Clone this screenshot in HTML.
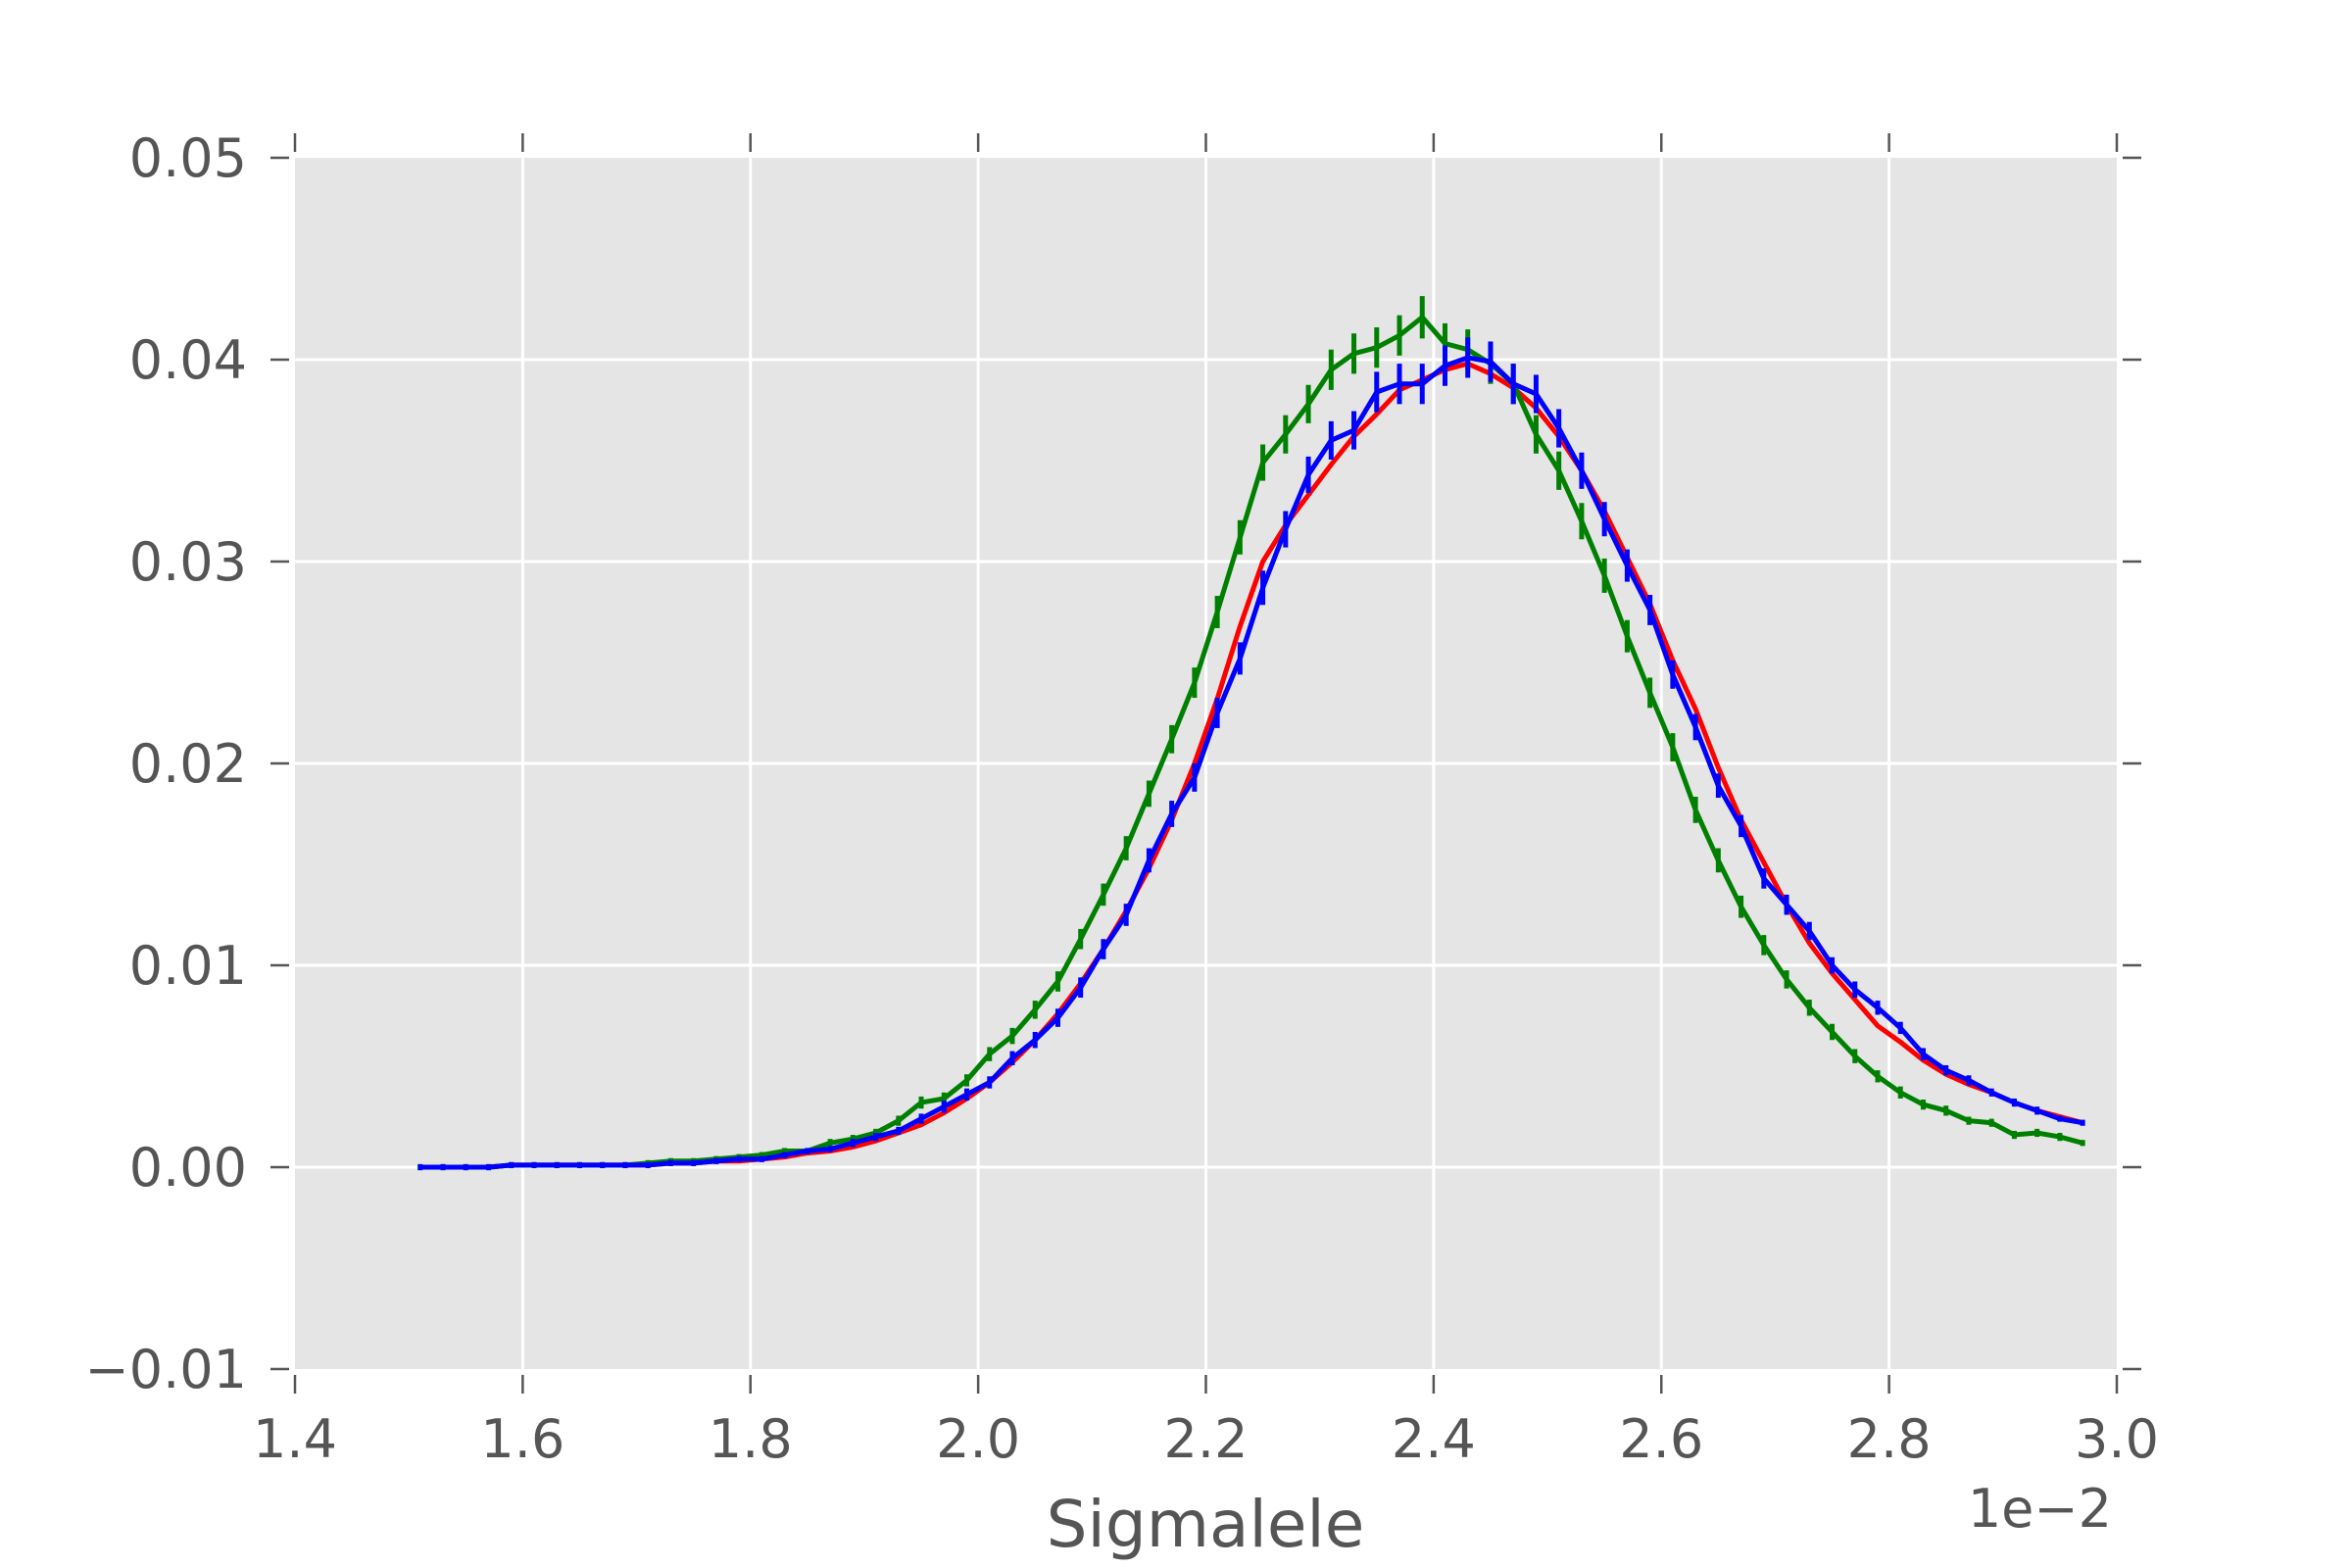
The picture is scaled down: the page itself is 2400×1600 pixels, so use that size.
<!DOCTYPE html>
<html><head><meta charset="utf-8"><style>
html,body{margin:0;padding:0;background:#fff;}
svg{display:block;font-family:"DejaVu Sans","Liberation Sans",sans-serif;}
</style></head>
<body>
<svg id="chart" width="2400" height="1600" viewBox="0 0 2400 1600" xmlns="http://www.w3.org/2000/svg">
<rect x="301" y="161" width="1859" height="1236" fill="#e5e5e5"/>
<g id="grid"></g>
<g id="ticks"></g>
<g id="series"></g>
<text x="1230" y="1578" font-size="66" fill="#555" text-anchor="middle">Sigmalele</text>
<text x="2155" y="1558" font-size="54" fill="#555" text-anchor="end">1e−2</text>
</svg>
<script>
const xVals=[1.51,1.53,1.55,1.57,1.59,1.61,1.63,1.65,1.67,1.69,1.71,1.73,1.75,1.77,1.79,1.81,1.83,1.85,1.87,1.89,1.91,1.93,1.95,1.97,1.99,2.01,2.03,2.05,2.07,2.09,2.11,2.13,2.15,2.17,2.19,2.21,2.23,2.25,2.27,2.29,2.31,2.33,2.35,2.37,2.39,2.41,2.43,2.45,2.47,2.49,2.51,2.53,2.55,2.57,2.59,2.61,2.63,2.65,2.67,2.69,2.71,2.73,2.75,2.77,2.79,2.81,2.83,2.85,2.87,2.89,2.91,2.93,2.95,2.97];
const redVals=[0,0,0,0,0.0001,0.0001,0.0001,0.0001,0.0001,0.0001,0.0001,0.0002,0.0002,0.0003,0.0003,0.0004,0.0005,0.0007,0.0008,0.0010,0.0013,0.0017,0.0021,0.0027,0.0034,0.0042,0.0052,0.0063,0.0076,0.0091,0.0108,0.0127,0.0148,0.0172,0.0200,0.0232,0.0268,0.0300,0.0318,0.0333,0.0348,0.0362,0.0373,0.0385,0.0390,0.0395,0.0398,0.0393,0.0386,0.0376,0.0362,0.0345,0.0325,0.0302,0.0279,0.0251,0.0227,0.0198,0.0172,0.0151,0.0130,0.0111,0.0096,0.0083,0.0070,0.0062,0.0053,0.0046,0.0041,0.0037,0.0032,0.0028,0.0025,0.0022];
const greenVals=[0,0,0,0,0.0001,0.0001,0.0001,0.0001,0.0001,0.0001,0.0002,0.0003,0.0003,0.0004,0.0005,0.0006,0.0008,0.0008,0.0012,0.0014,0.0017,0.0023,0.0032,0.0034,0.0043,0.0056,0.0065,0.0078,0.0092,0.0113,0.0135,0.0158,0.0185,0.0212,0.0240,0.0275,0.0312,0.0349,0.0363,0.0378,0.0395,0.0403,0.0406,0.0412,0.0421,0.0408,0.0405,0.0398,0.0388,0.0363,0.0345,0.0320,0.0293,0.0263,0.0235,0.0208,0.0177,0.0152,0.0129,0.0110,0.0093,0.0079,0.0067,0.0055,0.0045,0.0037,0.0031,0.0028,0.0023,0.0022,0.0016,0.0017,0.0015,0.0012];
const greenErr=[0,0,0,0,0.00005,0.00005,0.00005,0.00005,0.00005,0.00005,0.0001,0.0001,0.0001,0.0001,0.0001,0.0001,0.00015,0.00015,0.0002,0.0002,0.0002,0.00025,0.0003,0.0003,0.0003,0.00035,0.0004,0.00045,0.0005,0.0005,0.00055,0.0006,0.00065,0.0007,0.00075,0.0008,0.00085,0.0009,0.00095,0.00095,0.001,0.001,0.001,0.001,0.00105,0.001,0.001,0.001,0.001,0.00095,0.00095,0.0009,0.00085,0.0008,0.00075,0.0007,0.00065,0.0006,0.00055,0.0005,0.00045,0.0004,0.0004,0.00035,0.0003,0.0003,0.00025,0.00025,0.0002,0.0002,0.0002,0.0002,0.0002,0.00015];
const blueVals=[0,0,0,0,0.0001,0.0001,0.0001,0.0001,0.0001,0.0001,0.0001,0.0002,0.0002,0.0003,0.0004,0.0004,0.0006,0.0008,0.0009,0.0012,0.0015,0.0018,0.0024,0.0030,0.0036,0.0042,0.0054,0.0063,0.0074,0.0089,0.0108,0.0125,0.0152,0.0175,0.0193,0.0225,0.0252,0.0287,0.0316,0.0343,0.0360,0.0365,0.0384,0.0388,0.0388,0.0397,0.0401,0.0399,0.0388,0.0383,0.0366,0.0345,0.0321,0.0298,0.0276,0.0244,0.0218,0.0189,0.0169,0.0143,0.0130,0.0117,0.0100,0.0088,0.0079,0.0069,0.0056,0.0048,0.0043,0.0037,0.0032,0.0028,0.0024,0.0022];
const blueErr=[0,0,0,0,0.00005,0.00005,0.00005,0.00005,0.00005,0.00005,0.00005,0.0001,0.0001,0.0001,0.0001,0.0001,0.00015,0.00015,0.00015,0.0002,0.0002,0.0002,0.00025,0.0003,0.0003,0.0003,0.00035,0.0004,0.00045,0.0005,0.0005,0.00055,0.0006,0.00065,0.0007,0.00075,0.0008,0.00085,0.0009,0.0009,0.00095,0.00095,0.001,0.001,0.001,0.001,0.001,0.001,0.001,0.00095,0.00095,0.0009,0.00085,0.0008,0.00075,0.0007,0.00065,0.0006,0.00055,0.0005,0.0005,0.00045,0.0004,0.0004,0.00035,0.0003,0.0003,0.00025,0.00025,0.0002,0.0002,0.0002,0.00015,0.00015];
const xTicks=[1.4,1.6,1.8,2.0,2.2,2.4,2.6,2.8,3.0];
const xTickLabels=["1.4","1.6","1.8","2.0","2.2","2.4","2.6","2.8","3.0"];
const yTicks=[-0.01,0,0.01,0.02,0.03,0.04,0.05];
const yTickLabels=["−0.01","0.00","0.01","0.02","0.03","0.04","0.05"];

const NS="http://www.w3.org/2000/svg";
const L=301,R=2160,T=161,B=1397;
const X0=1.4,X1=3.0,Y0=-0.01,Y1=0.05;
function sx(v){return L+(v-X0)/(X1-X0)*(R-L);}
function sy(v){return B-(v-Y0)/(Y1-Y0)*(B-T);}
function mk(tag,attrs,parent){const e=document.createElementNS(NS,tag);for(const k in attrs)e.setAttribute(k,attrs[k]);parent.appendChild(e);return e;}
const grid=document.getElementById('grid'),ticks=document.getElementById('ticks'),series=document.getElementById('series');
xTicks.forEach((v,i)=>{
  const x=sx(v);
  if(i>0&&i<xTicks.length-1){const g=mk('line',{x1:x,x2:x,y1:T,y2:B,stroke:'#fff','stroke-width':3},grid);
  
  }
  const t1=mk('line',{x1:x,x2:x,y1:B+6,y2:B+25,stroke:'#555','stroke-width':2.5},ticks);
  
  
  const t2=mk('line',{x1:x,x2:x,y1:T-6,y2:T-25,stroke:'#555','stroke-width':2.5},ticks);
  
  
  const tx=mk('text',{x:x,y:1487,'font-size':54,fill:'#555','text-anchor':'middle'},ticks);
  tx.textContent=xTickLabels[i];
  
  
});
yTicks.forEach((v,i)=>{
  const y=sy(v);
  if(i>0&&i<yTicks.length-1){const g=mk('line',{x1:L,x2:R,y1:y,y2:y,stroke:'#fff','stroke-width':3},grid);
  
  }
  const t1=mk('line',{x1:L-6,x2:L-25,y1:y,y2:y,stroke:'#555','stroke-width':2.5},ticks);
  
  
  const t2=mk('line',{x1:R+6,x2:R+25,y1:y,y2:y,stroke:'#555','stroke-width':2.5},ticks);
  
  
  const tx=mk('text',{x:252,y:y+19,'font-size':54,fill:'#555','text-anchor':'end'},ticks);
  tx.textContent=yTickLabels[i];
  
  
});
function drawSeries(name,vals,err,color){
  const g=mk('g',{},series);
  
  
  const pts=vals.map((v,i)=>sx(xVals[i]).toFixed(1)+','+sy(v).toFixed(1)).join(' ');
  const pl=mk('polyline',{points:pts,fill:'none',stroke:color,'stroke-width':5,'stroke-linejoin':'miter'},g);
  
  
  if(err){vals.forEach((v,i)=>{
    const x=sx(xVals[i]);const e=Math.max(err[i],0.00015);
    const eb=mk('line',{x1:x,x2:x,y1:sy(v-e),y2:sy(v+e),stroke:color,'stroke-width':5},g);
    
    
  });}
}
drawSeries('red',redVals,null,'#ff0000');
drawSeries('green',greenVals,greenErr,'#008000');
drawSeries('blue',blueVals,blueErr,'#0000ff');
</script>
</body></html>
